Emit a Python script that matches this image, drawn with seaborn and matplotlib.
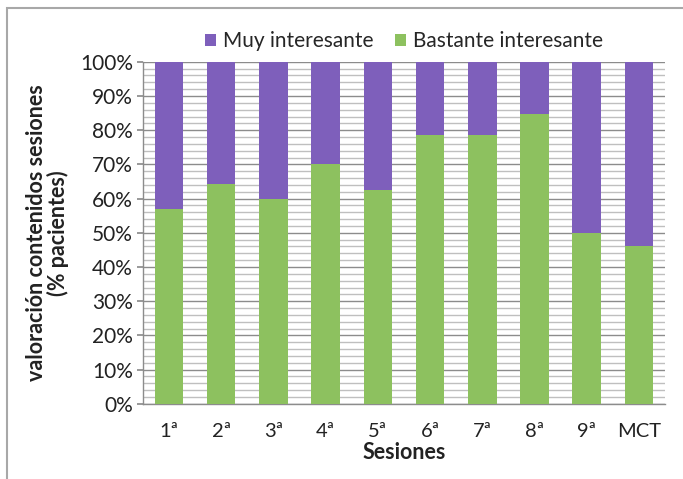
import matplotlib
matplotlib.use("Agg")
import matplotlib.pyplot as plt
from matplotlib.patches import Rectangle
from matplotlib.ticker import MultipleLocator, FuncFormatter
import seaborn as sns
import pandas as pd

sesiones = ["1ª", "2ª", "3ª", "4ª", "5ª", "6ª", "7ª", "8ª", "9ª", "MCT"]
bastante = [57.1, 64.3, 60.0, 70.0, 62.5, 78.6, 78.6, 84.6, 50.0, 46.2]
muy = [42.9, 35.7, 40.0, 30.0, 37.5, 21.4, 21.4, 15.4, 50.0, 53.8]

color_muy = "#7e5fbb"
color_bastante = "#8dc15f"

sns.set_theme(style="white")
plt.rcParams["font.family"] = ["Lato", "DejaVu Sans"]

df = pd.DataFrame({"Sesion": sesiones, "Bastante": bastante, "Muy": muy})
df["Total"] = df["Bastante"] + df["Muy"]

fig = plt.figure(figsize=(6.83, 4.79), dpi=100)
ax = fig.add_axes([0.209, 0.157, 0.765, 0.714])

# stacked bars: full-height purple, green share drawn over it
sns.barplot(data=df, x="Sesion", y="Total", color=color_muy, width=0.55,
            saturation=1, linewidth=0, ax=ax, zorder=3, label="Muy interesante")
sns.barplot(data=df, x="Sesion", y="Bastante", color=color_bastante, width=0.55,
            saturation=1, linewidth=0, ax=ax, zorder=3, label="Bastante interesante")

ax.set_ylim(0, 100)
ax.set_xlim(-0.5, len(sesiones) - 0.5)
ax.yaxis.set_major_locator(MultipleLocator(10))
ax.yaxis.set_minor_locator(MultipleLocator(2))
ax.yaxis.set_major_formatter(FuncFormatter(lambda v, p: f"{v:.0f}%"))
ax.grid(axis="y", which="major", color="#8c8c8c", linewidth=1.0, zorder=0)
ax.grid(axis="y", which="minor", color="#bfbfbf", linewidth=1.0, zorder=0)
ax.set_axisbelow(True)

for s in ["top", "right"]:
    ax.spines[s].set_visible(False)
for s in ["left", "bottom"]:
    ax.spines[s].set_color("#8c8c8c")
    ax.spines[s].set_linewidth(1.0)

ax.tick_params(axis="y", which="major", left=True, length=4, color="#8c8c8c",
               labelsize=15, pad=3)
ax.tick_params(axis="y", which="minor", left=False)
ax.tick_params(axis="x", bottom=False, labelsize=14.5, pad=8)
for lbl in ax.get_xticklabels() + ax.get_yticklabels():
    lbl.set_color("#222222")

ax.set_xlabel("Sesiones", fontsize=15.5, fontweight="bold", color="#222222", labelpad=1)
ax.set_ylabel("valoración contenidos sesiones\n(% pacientes)", fontsize=15.5,
              fontweight="bold", color="#222222", labelpad=8, linespacing=1.0)

handles, labels = ax.get_legend_handles_labels()
ax.legend(handles, labels, loc="lower center", bbox_to_anchor=(0.5, 1.0), ncol=2,
          frameon=False, fontsize=15, handlelength=0.55, handleheight=0.55,
          handletextpad=0.35, columnspacing=1.0, borderaxespad=0.1)

# thin grey frame around the figure
fig.patches.append(Rectangle((7 / 683, -0.1), 1.2, 1 - 8 / 479 + 0.1,
                             transform=fig.transFigure, fill=False,
                             edgecolor="#a8a8a8", linewidth=1.5))

fig.savefig("out.png", dpi=100)
